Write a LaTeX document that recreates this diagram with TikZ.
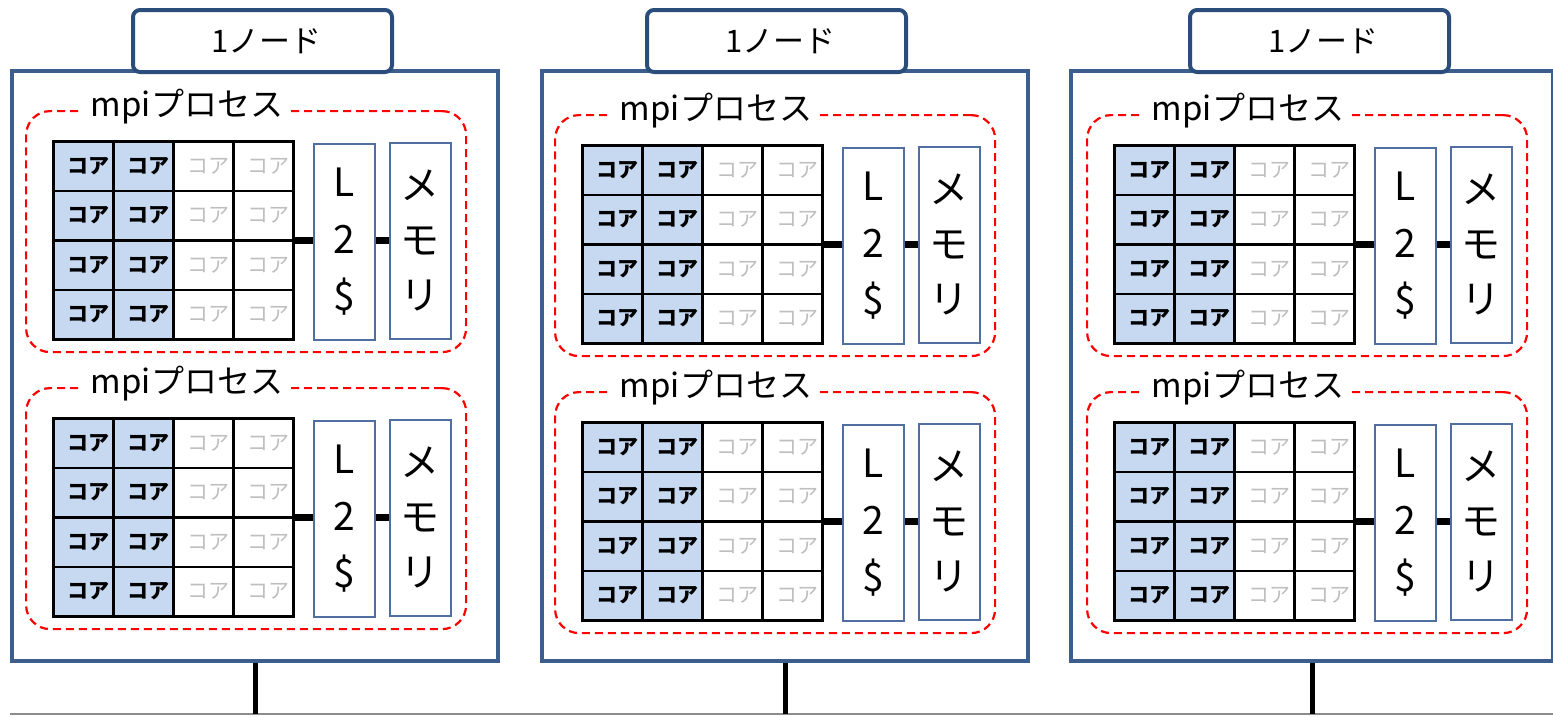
\documentclass[tikz,border=0pt]{standalone}
\usepackage{fontspec}
\setmainfont{Noto Sans CJK JP}
\definecolor{nodeblue}{HTML}{3B5E8C}
\definecolor{tabblue}{HTML}{2A4D7B}
\definecolor{coreblue}{HTML}{C6D9F1}
\definecolor{coregray}{HTML}{BFBFBF}
\definecolor{boxblue}{HTML}{4F6FA0}
\definecolor{busgray}{HTML}{8C8C8C}
\tikzset{
  nodebox/.style={draw=nodeblue, line width=4pt, fill=white, inner sep=0pt, anchor=north west},
  tabbox/.style={draw=tabblue, line width=4pt, rounded corners=7pt, fill=white, inner sep=0pt,
    minimum width=259pt, minimum height=62pt, anchor=north west, font=\fontsize{31}{32}\selectfont},
  procbox/.style={draw=red, line width=2.2pt, rounded corners=24pt, dash pattern=on 8pt off 5pt,
    inner sep=0pt, minimum width=440pt, minimum height=241pt, anchor=north west},
  proclabel/.style={fill=white, inner xsep=8pt, inner ysep=1pt, font=\fontsize{33}{35}\selectfont},
  corecell/.style={draw=black, line width=2.5pt, minimum width=60pt, minimum height=49.5pt,
    inner sep=0pt, anchor=north west, text width=53pt, align=right},
  activecore/.style={corecell, fill=coreblue, font=\fontsize{21}{22}\selectfont\bfseries},
  idlecore/.style={corecell, fill=white, text=coregray, font=\fontsize{21}{22}\selectfont},
  gridframe/.style={draw=black, line width=3pt, minimum width=240pt, minimum height=198pt,
    inner sep=0pt, anchor=north west},
  unitbox/.style={draw=boxblue, line width=1.5pt, fill=white, minimum width=61pt, minimum height=196pt,
    inner sep=0pt, anchor=north west, align=center, font=\fontsize{39}{57}\selectfont},
  memtext/.style={font=\fontsize{39}{55}\selectfont},
  link/.style={draw=black, line width=7pt},
  drop/.style={draw=black, line width=5pt},
  bus/.style={draw=busgray, line width=2pt}
}
\newcommand\procblock[3]{%
  \node[procbox] (#1) at ({#2-27},{#3-30}) {};
  \node[proclabel] (#1-lbl) at ({#2+135},{#3-33}) {mpiプロセス};
  \foreach \j in {0,...,3}{%
    \node[activecore] (#1-c\j-0) at ({#2},{#3+49.5*\j}) {コア};
    \node[activecore] (#1-c\j-1) at ({#2+60},{#3+49.5*\j}) {コア};
    \node[idlecore] (#1-c\j-2) at ({#2+120},{#3+49.5*\j}) {コア};
    \node[idlecore] (#1-c\j-3) at ({#2+180},{#3+49.5*\j}) {コア};
  }
  \node[gridframe] (#1-grid) at ({#2},{#3}) {};
  \node[unitbox] (#1-l2) at ({#2+261},{#3+3}) {L\\2\\\$};
  \node[unitbox, memtext] (#1-mem) at ({#2+337},{#3+2}) {メ\\モ\\リ};
  \draw[link] (#1-grid.east) -- (#1-grid.east -| #1-l2.west);
  \draw[link] (#1-l2.east |- #1-grid.east) -- (#1-mem.west |- #1-grid.east);
}
\begin{document}
\begin{tikzpicture}[x=1pt,y=-1pt]
\useasboundingbox (0,0) rectangle (1553,716);
% bus
\coordinate (bus-l) at (10,714);
\coordinate (bus-r) at (1553,714);
\draw[bus] (bus-l) -- (bus-r);
% node boxes
\node[nodebox, minimum width=486pt, minimum height=590pt] (node1) at (10,69) {};
\node[nodebox, minimum width=486pt, minimum height=590pt] (node2) at (540,69) {};
\node[nodebox, minimum width=482pt, minimum height=590pt] (node3) at (1069,69) {};
\draw[drop] (node1.south) -- (node1.south |- bus-l);
\draw[drop] (node2.south) -- (node2.south |- bus-l);
\draw[drop] (node3.south) -- (node3.south |- bus-l);
% tabs
\node[tabbox] (tab1) at (131,8) {\hspace{8pt}1ノード};
\node[tabbox] (tab2) at (645,8) {\hspace{8pt}1ノード};
\node[tabbox] (tab3) at (1188,8) {\hspace{8pt}1ノード};
% processes
\procblock{p1a}{52}{140}
\procblock{p1b}{52}{417}
\procblock{p2a}{581}{144}
\procblock{p2b}{581}{421}
\procblock{p3a}{1113}{144}
\procblock{p3b}{1113}{421}
\end{tikzpicture}
\end{document}
